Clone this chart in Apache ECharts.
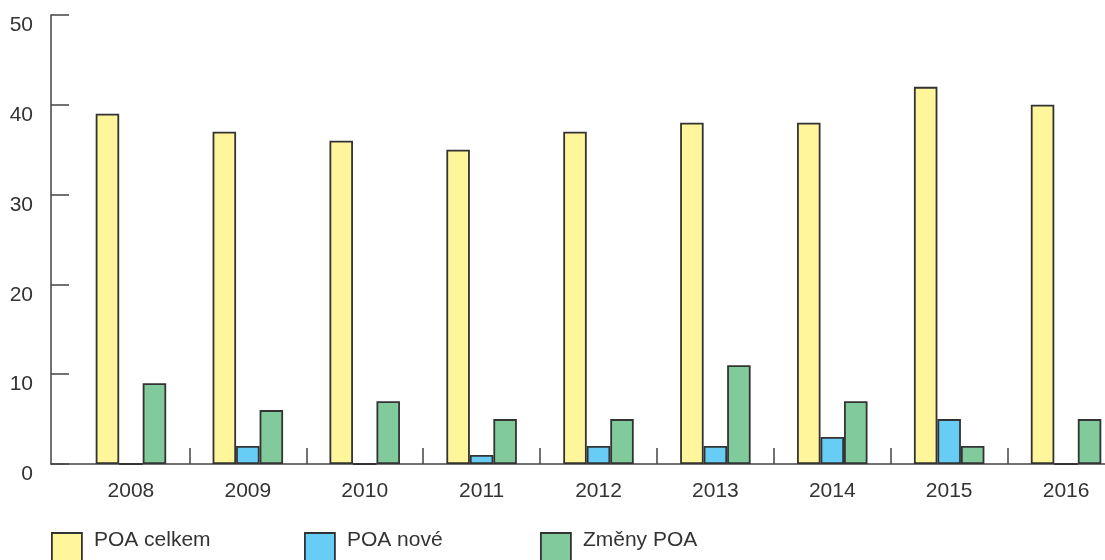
<!DOCTYPE html>
<html>
<head>
<meta charset="utf-8">
<script src="https://cdn.jsdelivr.net/npm/echarts@6/dist/echarts.min.js"></script>
<style>html,body{margin:0;padding:0;background:#fff;overflow:hidden;width:1105px;height:560px}#c{width:1140px;height:560px}</style>
</head>
<body>
<div id="c"></div>
<script>
const years = ['2008','2009','2010','2011','2012','2013','2014','2015','2016'];
const poaCelkem = [39, 37, 36, 35, 37, 38, 38, 42, 40];
const poaNove = [0, 2, 0, 1, 2, 2, 3, 5, 0];
const zmenyPoa = [9, 6, 7, 5, 5, 11, 7, 2, 5];
const yTicks = [0, 10, 20, 30, 40, 50];
const seriesNames = ['POA celkem', 'POA nové', 'Změny POA'];

const colors = ['#FFF59B', '#67CDF5', '#80CA9B'];
const font = '"Liberation Sans", Arial, sans-serif';
const chart = echarts.init(document.getElementById('c'), null, {renderer: 'canvas'});
const mkBar = (name, data, color) => ({
  name, type: 'bar', data, xAxisIndex: 0, yAxisIndex: 0,
  barWidth: 23.5, barGap: '0%',
  itemStyle: {color, borderColor: '#333', borderWidth: 1.8},
  emphasis: {disabled: true}
});
const legendBase = {
  orient: 'horizontal', itemWidth: 30, itemHeight: 30, top: 530, padding: 0,
  icon: 'rect',
  formatter: '{t|{name}}',
  textStyle: {
    fontFamily: font, fontSize: 21, color: '#333',
    rich: {t: {fontFamily: font, fontSize: 21, color: '#333', padding: [0, 0, 15, 7]}}
  },
  itemStyle: {borderColor: '#333', borderWidth: 1.8}
};
chart.setOption({
  animation: false,
  backgroundColor: '#fff',
  color: colors,
  legend: [
    Object.assign({}, legendBase, {left: 51, data: [seriesNames[0]]}),
    Object.assign({}, legendBase, {left: 304, data: [seriesNames[1]]}),
    Object.assign({}, legendBase, {left: 540, data: [seriesNames[2]]})
  ],
  grid: [
    {left: 72.5, width: 1052, top: 15, bottom: 96},
    {left: 51, width: 1054, top: 15, bottom: 96}
  ],
  xAxis: [
    {
      type: 'category', data: years, gridIndex: 0,
      axisLine: {show: false},
      axisTick: {show: true, inside: true, length: 16, lineStyle: {color: '#444', width: 1.5},
        interval: (i) => i > 0},
      axisLabel: {fontFamily: font, fontSize: 21, color: '#333', margin: 17}
    },
    {
      type: 'value', gridIndex: 1, min: 0, max: 1,
      axisLine: {show: true, lineStyle: {color: '#444', width: 1.5}},
      axisTick: {show: false}, axisLabel: {show: false}, splitLine: {show: false}
    }
  ],
  yAxis: [
    {type: 'value', gridIndex: 0, min: 0, max: 50, show: false},
    {
      type: 'value', gridIndex: 1, min: yTicks[0], max: yTicks[yTicks.length - 1], interval: 10,
      axisLine: {show: true, lineStyle: {color: '#444', width: 1.5}},
      axisTick: {show: true, inside: true, length: 18, lineStyle: {color: '#444', width: 1.5}},
      axisLabel: {fontFamily: font, fontSize: 21, color: '#333', margin: 18, verticalAlign: 'top'},
      splitLine: {show: false}
    }
  ],
  series: [
    mkBar(seriesNames[0], poaCelkem, colors[0]),
    mkBar(seriesNames[1], poaNove, colors[1]),
    mkBar(seriesNames[2], zmenyPoa, colors[2])
  ]
});
</script>
</body>
</html>
